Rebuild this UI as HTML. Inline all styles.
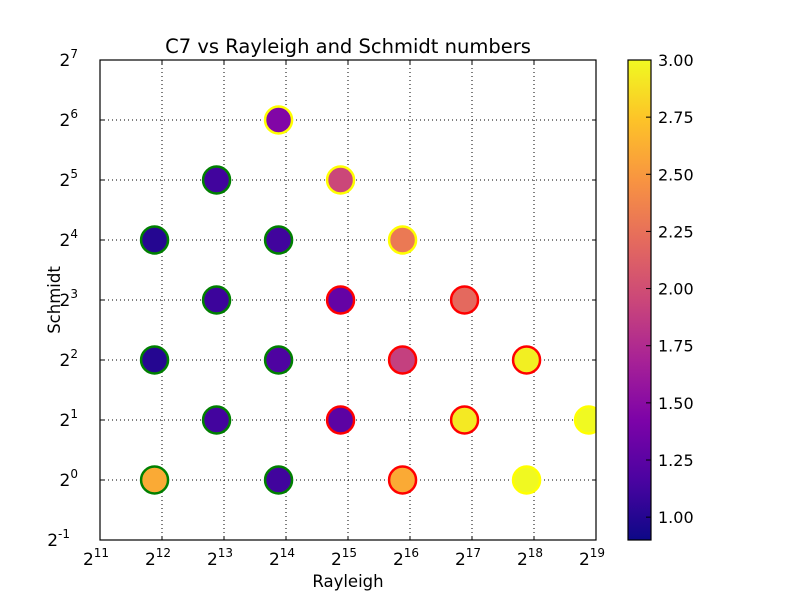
<!DOCTYPE html>
<html><head><meta charset="utf-8"><style>
body{margin:0;background:#fff;}
svg{display:block;font-family:"DejaVu Sans","Liberation Sans",sans-serif;}
</style></head><body>
<svg id="c" width="800" height="600"></svg>
<script>
const raExp=[11.88,11.88,11.88,12.88,12.88,12.88,13.88,13.88,13.88,13.88,14.88,14.88,14.88,15.88,15.88,15.88,16.88,16.88,17.88,17.88,18.88];
const scExp=[4,2,0,5,3,1,6,4,2,0,5,3,1,4,2,0,3,1,2,0,1];
const c7=[1.0,1.0,2.6,1.12,1.1,1.13,1.45,1.12,1.18,1.12,1.95,1.3,1.25,2.3,1.9,2.6,2.2,2.92,2.95,3.0,3.0];
const edge=['green','green','green','green','green','green','yellow','green','green','green','yellow','red','red','yellow','red','red','red','red','red','yellow','yellow'];
const xTicks=[11,12,13,14,15,16,17,18,19];
const yTicks=[-1,0,1,2,3,4,5,6,7];
const cbTicks=[1.0,1.25,1.5,1.75,2.0,2.25,2.5,2.75,3.0];
const L=100,R=596,T=60,B=540,vmin=0.9,vmax=3.0;
const X=v=>L+(v-11)/8*(R-L), Y=v=>B-(v+1)/8*(B-T);
const stops=[[13,8,135],[75,3,161],[125,3,168],[168,34,150],[203,71,121],[229,107,93],[248,148,65],[253,195,40],[240,249,33]];
function cmap(v){let t=Math.max(0,Math.min(1,(v-vmin)/(vmax-vmin)))*(stops.length-1);let i=Math.min(stops.length-2,Math.floor(t)),f=t-i;
const a=stops[i],b=stops[i+1];return 'rgb('+a.map((x,k)=>Math.round(x+(b[k]-x)*f)).join(',')+')';}
const svg=document.getElementById('c');const NS='http://www.w3.org/2000/svg';
function el(t,a,p){const e=document.createElementNS(NS,t);for(const k in a)e.setAttribute(k,a[k]);(p||svg).appendChild(e);return e;}
let defs=el('defs',{});let cp=el('clipPath',{id:'cp'},defs);el('rect',{x:L,y:T,width:R-L,height:B-T},cp);
let g=el('linearGradient',{id:'gr',x1:0,y1:1,x2:0,y2:0},defs);
stops.forEach((s,i)=>el('stop',{offset:i/(stops.length-1),'stop-color':'rgb('+s.join(',')+')'},g));
el('rect',{x:L,y:T,width:R-L,height:B-T,fill:'#fff'});
xTicks.forEach(v=>{const x=X(v);
 const gl=el('line',{x1:x,x2:x,y1:T,y2:B,stroke:'#000','stroke-width':1,'stroke-dasharray':'1,3'});
 
 el('line',{x1:x,x2:x,y1:B,y2:B-4,stroke:'#000'});el('line',{x1:x,x2:x,y1:T,y2:T+4,stroke:'#000'});
 const t=el('text',{x:x-4,y:B+25,'font-size':17,'text-anchor':'middle'});t.textContent='2';
 const s=el('tspan',{'font-size':12,dy:-8},t);s.textContent=v;
 });
yTicks.forEach(v=>{const y=Y(v);
 const gl=el('line',{x1:L,x2:R,y1:y,y2:y,stroke:'#000','stroke-width':1,'stroke-dasharray':'1,3'});
 
 el('line',{x1:L,x2:L+4,y1:y,y2:y,stroke:'#000'});el('line',{x1:R,x2:R-4,y1:y,y2:y,stroke:'#000'});
 const t=el('text',{x:v<0?70:78,y:y+6,'font-size':17,'text-anchor':'end'});t.textContent='2';
 const s=el('tspan',{'font-size':12,dy:-8},t);s.textContent=v;
 });
const pg=el('g',{'clip-path':'url(#cp)'});
raExp.forEach((r,i)=>{const c=el('circle',{cx:X(r),cy:Y(scExp[i]),r:13.5,fill:cmap(c7[i]),stroke:edge[i],'stroke-width':2.5},pg);
 });
el('rect',{x:L,y:T,width:R-L,height:B-T,fill:'none',stroke:'#000','stroke-width':1.2});
let t=el('text',{x:348,y:53,'font-size':19.5,'text-anchor':'middle'});t.textContent='C7 vs Rayleigh and Schmidt numbers';

t=el('text',{x:348,y:587,'font-size':16.5,'text-anchor':'middle'});t.textContent='Rayleigh';

t=el('text',{x:0,y:0,'font-size':16.5,'text-anchor':'middle',transform:'translate(60,300) rotate(-90)'});t.textContent='Schmidt';

const cx0=628,cx1=651,CY=v=>B-(v-vmin)/(vmax-vmin)*(B-T);
const cb=el('rect',{x:cx0,y:T,width:cx1-cx0,height:B-T,fill:'url(#gr)',stroke:'#000','stroke-width':1.2});

cbTicks.forEach(v=>{const y=CY(v);el('line',{x1:cx1-5,x2:cx1,y1:y,y2:y,stroke:'#000'});
 const tt=el('text',{x:cx1+7,y:y+6,'font-size':16});tt.textContent=v.toFixed(2);
 });
</script>
</body></html>
